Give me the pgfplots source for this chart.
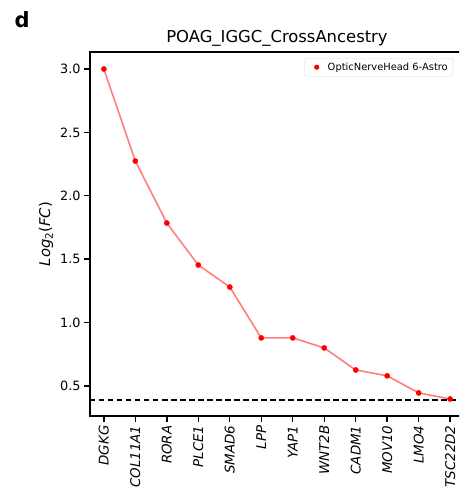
\documentclass[border=0pt]{standalone}
\usepackage{pgfplots}
\pgfplotsset{compat=1.18}
\usepackage{fontspec}
\setmainfont{DejaVu Sans}
\definecolor{linered}{HTML}{FF7F7F}
\begin{document}
\begin{tikzpicture}
\useasboundingbox (-90pt,-74pt) rectangle (369pt,416pt);
\clip (-90pt,-74pt) rectangle (369pt,416pt);
\begin{axis}[
  at={(0pt,0pt)}, anchor=south west,
  scale only axis, width=374pt, height=364pt,
  xmin=-0.44, xmax=11.44, ymin=0.263, ymax=3.134,
  axis line style={line width=1.4pt},
  xtick={0,...,11},
  xticklabels={DGKG,COL11A1,RORA,PLCE1,SMAD6,LPP,YAP1,WNT2B,CADM1,MOV10,LMO4,TSC22D2},
  xticklabel style={rotate=90, anchor=east, font=\fontsize{13.4}{15}\selectfont\itshape},
  ytick={0.5,1.0,1.5,2.0,2.5,3.0},
  yticklabel style={font=\fontsize{12.8}{14}\selectfont, /pgf/number format/fixed, /pgf/number format/fixed zerofill, /pgf/number format/precision=1},
  /pgf/number format/assume math mode=true,
  tick align=outside, tick pos=left,
  major tick length=6pt,
  tick style={line width=1.4pt, black},
  ylabel={\textit{Log}\textsubscript{2}(\textit{FC})},
  ylabel style={font=\fontsize{14.8}{16}\selectfont},
  title={POAG\_IGGC\_CrossAncestry},
  title style={font=\fontsize{16.4}{18}\selectfont, yshift=-4pt},
  legend style={at={(0.9706,0.9835)}, anchor=north east, font=\fontsize{9.9}{11}\selectfont, draw=black!15, rounded corners=2pt, inner xsep=3pt, inner ysep=2.5pt},
  legend image code/.code={\path[draw=none,fill=none] (0pt,0pt) rectangle (18pt,0pt); \path[draw=none,fill=red] (9pt,0pt) circle (2.6pt);},
  legend cell align=left,
]
\addplot[linered, line width=1.6pt, forget plot] coordinates {
 (0,3.0) (1,2.274) (2,1.785) (3,1.454) (4,1.28) (5,0.879) (6,0.879) (7,0.80) (8,0.626) (9,0.58) (10,0.445) (11,0.397)
};
\addplot[only marks, mark=*, mark size=2.6pt, red, mark options={draw=red, fill=red}] coordinates {
 (0,3.0) (1,2.274) (2,1.785) (3,1.454) (4,1.28) (5,0.879) (6,0.879) (7,0.80) (8,0.626) (9,0.58) (10,0.445) (11,0.397)
};
\addlegendentry{OpticNerveHead 6-Astro}
\addplot[black, dashed, line width=1.5pt, dash pattern=on 5.5pt off 3.5pt, forget plot] coordinates {(-0.44,0.39) (11.44,0.39)};
\end{axis}
\node[font=\fontsize{21}{24}\selectfont\bfseries, anchor=base west] at (-79pt,388pt) {d};
\end{tikzpicture}
\end{document}
